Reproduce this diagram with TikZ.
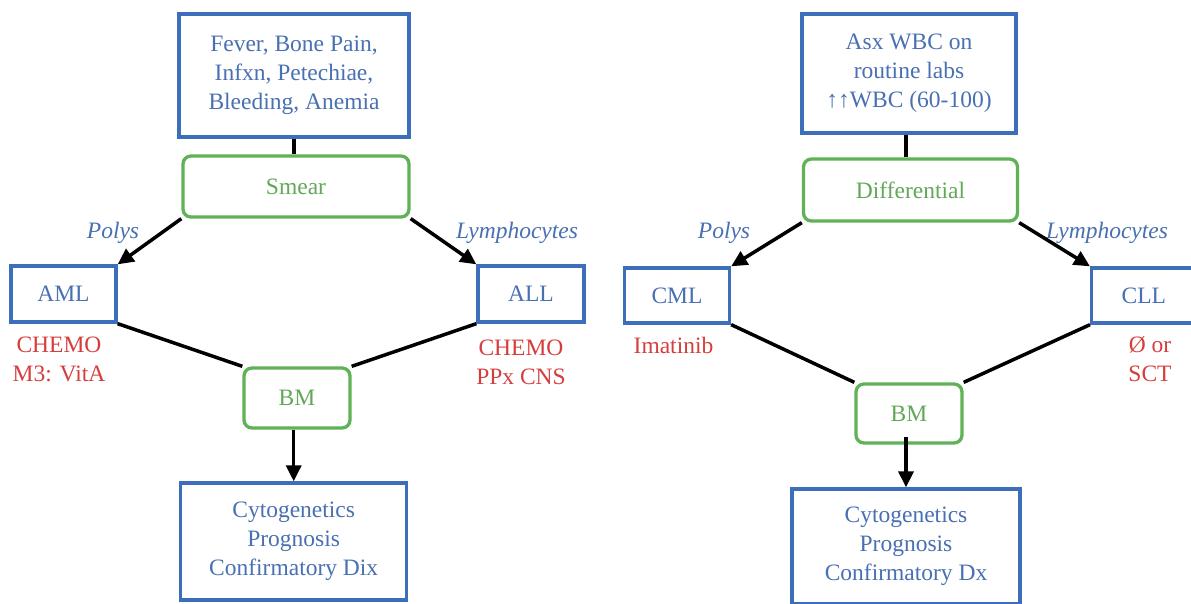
\documentclass[tikz,border=0pt]{standalone}
\usepackage{fontspec}
\setmainfont{Liberation Serif}
\usetikzlibrary{arrows.meta,calc}
\definecolor{boxblue}{RGB}{60,110,188}
\definecolor{textblue}{RGB}{72,112,178}
\definecolor{boxgreen}{RGB}{96,178,86}
\definecolor{textgreen}{RGB}{98,168,88}
\definecolor{textred}{RGB}{214,62,62}
\begin{document}
\begin{tikzpicture}[x=1pt,y=-1pt,
  every node/.style={font=\fontsize{23.5}{29}\selectfont},
  bluebox/.style={draw=boxblue, line width=3.3pt, text=textblue, align=center, inner sep=0pt, rectangle},
  greenbox/.style={draw=boxgreen, line width=3.3pt, text=textgreen, rounded corners=8pt, inner sep=0pt, rectangle},
  redtext/.style={text=textred, align=center, inner sep=0pt},
  lbl/.style={text=textblue, font=\fontsize{23.5}{29}\selectfont\itshape, inner sep=0pt},
  link/.style={line width=3.5pt, draw=black},
  arr/.style={link, -{Triangle[length=16pt,width=15pt]}}
]
\useasboundingbox (0,0) rectangle (1191,604);
\fill[white] (0,0) rectangle (1191,604);

% ---------------- left panel ----------------
\node[bluebox, minimum width=230, minimum height=123] (top1) at (294,75.5)
  {Fever, Bone Pain,\\Infxn, Petechiae,\\Bleeding, Anemia};
\node[greenbox, minimum width=226, minimum height=61] (smear) at (296,186.5) {Smear};
\node[bluebox, minimum width=105, minimum height=56] (aml) at (63.5,294) {AML};
\node[bluebox, minimum width=106, minimum height=56] (all) at (531,294) {ALL};
\node[greenbox, minimum width=106, minimum height=60] (bm1) at (297,398) {BM};
\node[bluebox, minimum width=226, minimum height=117] (bot1) at (293.7,541.5)
  {Cytogenetics\\Prognosis\\Confirmatory Dix};
\node[lbl] (polys1) at (113,233) {Polys};
\node[lbl] (lymph1) at (517,233) {Lymphocytes};
\node[redtext] (tx1) at (59,359.5) {CHEMO\\M3: VitA};
\node[redtext] (tx2) at (521,362.5) {CHEMO\\PPx CNS};

\draw[link] (top1.south) -- (smear.north -| top1.south);
\draw[arr] (smear.south west) -- (aml.north east);
\draw[arr] (smear.south east) -- (all.north west);
\draw[link] (aml.south east) -- (bm1.north west);
\draw[link] (all.south west) -- (bm1.north east);
\draw[arr] (bm1.south -| bot1.north) -- (bot1.north);

% ---------------- right panel ----------------
\node[bluebox, minimum width=214, minimum height=119] (top2) at (909,73.5)
  {Asx WBC on\\routine labs\\↑↑WBC (60-100)};
\node[greenbox, minimum width=214, minimum height=62] (diff) at (910.5,190) {Differential};
\node[bluebox, minimum width=105, minimum height=55] (cml) at (677,295.5) {CML};
\node[bluebox, minimum height=55, anchor=west, inner xsep=30, align=left] (cll) at (1090,295.5)
  {CLL\hspace*{30pt}};
\node[greenbox, minimum width=106, minimum height=59] (bm2) at (909,413.5) {BM};
\node[bluebox, minimum width=228, minimum height=115] (bot2) at (906,546.5)
  {Cytogenetics\\Prognosis\\Confirmatory Dx};
\node[lbl] (polys2) at (724,233) {Polys};
\node[lbl] (lymph2) at (1107,233) {Lymphocytes};
\node[redtext] (tx3) at (673.5,345) {Imatinib};
\node[redtext] (tx4) at (1150,359) {Ø or\\SCT};

\draw[link] (top2.south -| bot2.north) -- (diff.north -| bot2.north);
\draw[arr] (diff.south west) -- (cml.north east);
\draw[arr] (diff.south east) -- (cll.north west);
\draw[link] (cml.south east) -- (bm2.north west);
\draw[link] (cll.south west) -- (bm2.north east);
\draw[arr] ([yshift=8pt]bm2.south -| bot2.north) -- (bot2.north);
\end{tikzpicture}
\end{document}
